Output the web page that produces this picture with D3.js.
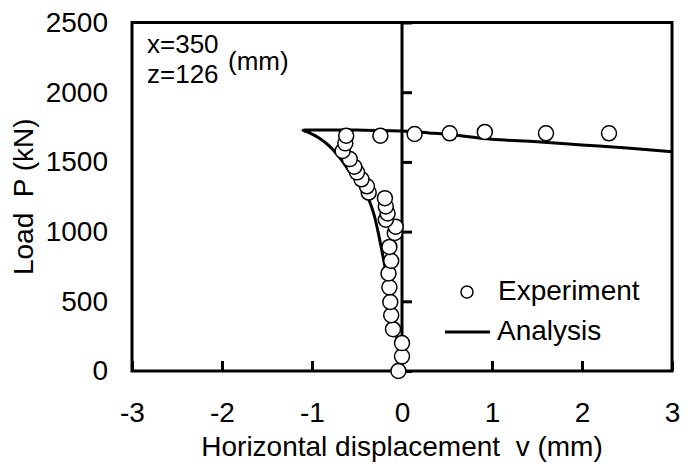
<!DOCTYPE html>
<html>
<head>
<meta charset="utf-8">
<script src="https://cdn.jsdelivr.net/npm/d3@7"></script>
<style>
  body { margin: 0; background: #fff; }
  text { font-family: Arial, "Liberation Sans", sans-serif; fill: #000; white-space: pre; }
</style>
</head>
<body>
<svg id="chart" width="688" height="466"></svg>
<script>
// experiment: horizontal displacement v (mm) and load P (kN)
var expV = [-0.04, 0.00, 0.00, -0.10, -0.12, -0.13, -0.14, -0.15, -0.12, -0.14, -0.08, -0.07,
  -0.18, -0.16, -0.18, -0.19, -0.37, -0.39, -0.45, -0.50, -0.53, -0.58, -0.66, -0.63, -0.62,
  -0.24, 0.14, 0.53, 0.92, 1.60, 2.30];
var expP = [0, 105, 200, 300, 400, 495, 600, 700, 790, 890, 990, 1035,
  1085, 1130, 1180, 1240, 1280, 1325, 1375, 1425, 1465, 1520, 1578, 1633, 1688,
  1688, 1700, 1705, 1715, 1705, 1705];

// analysis curve
var anaV = [0.00, -0.10, -0.19, -0.22, -0.26, -0.31, -0.37, -0.45, -0.55, -0.68, -0.80, -0.93,
  -1.04, -1.10, -1.08, -1.00, -0.50, 0.00, 0.30, 0.50, 1.00, 1.50, 2.00, 2.50, 3.00];
var anaP = [0, 400, 750, 850, 980, 1120, 1230, 1310, 1400, 1520, 1610, 1675,
  1712, 1726, 1729, 1729, 1728, 1722, 1708, 1698, 1662, 1645, 1622, 1600, 1572];

var xTicks = [-3, -2, -1, 0, 1, 2, 3];
var yTicks = [0, 500, 1000, 1500, 2000, 2500];

var margin = {left: 132, right: 16, top: 22.5, bottom: 95};
var width = 688, height = 466;
var fontSize = 28;

var svg = d3.select('#chart');
var x = d3.scaleLinear().domain([-3, 3]).range([margin.left, width - margin.right]);
var y = d3.scaleLinear().domain([0, 2500]).range([height - margin.bottom, margin.top]);

// frame
svg.append('rect')
  .attr('x', x(-3)).attr('y', y(2500))
  .attr('width', x(3) - x(-3)).attr('height', y(0) - y(2500))
  .attr('fill', 'none').attr('stroke', '#000').attr('stroke-width', 3);

// y tick labels along the left border
var yLabels = svg.append('g')
  .attr('transform', 'translate(' + x(-3) + ',0)')
  .call(d3.axisLeft(y).tickValues(yTicks).tickSize(0).tickPadding(24).tickFormat(d => String(d)));
yLabels.select('.domain').remove();
yLabels.selectAll('text').attr('font-size', fontSize).attr('font-family', null);

// y axis at v = 0 with ticks pointing right
var yAxis = svg.append('g')
  .attr('transform', 'translate(' + x(0) + ',0)')
  .call(d3.axisRight(y).tickValues(yTicks).tickSize(10).tickFormat(''));
yAxis.select('.domain').attr('stroke-width', 3).attr('d', 'M0,' + y(0) + 'V' + y(2500));
yAxis.selectAll('.tick line').attr('stroke-width', 3);

// x axis with ticks pointing up
var xAxis = svg.append('g')
  .attr('transform', 'translate(0,' + y(0) + ')')
  .call(d3.axisBottom(x).tickValues(xTicks).tickSize(-10).tickPadding(31).tickFormat(d => String(d)));
xAxis.select('.domain').remove();
xAxis.selectAll('.tick line').attr('stroke-width', 3);
xAxis.selectAll('text').attr('font-size', fontSize).attr('font-family', null);

// analysis line
var anaData = d3.zip(anaV, anaP);
svg.append('path')
  .datum(anaData)
  .attr('fill', 'none').attr('stroke', '#000').attr('stroke-width', 3)
  .attr('stroke-linejoin', 'round')
  .attr('d', d3.line().x(d => x(d[0])).y(d => y(d[1])).curve(d3.curveCatmullRom.alpha(0.5)));

// experiment markers
svg.append('g').selectAll('circle')
  .data(d3.zip(expV, expP))
  .enter().append('circle')
  .attr('cx', d => x(d[0])).attr('cy', d => y(d[1]))
  .attr('r', 7.5)
  .attr('fill', '#fff').attr('stroke', '#000').attr('stroke-width', 1.5);

// annotation
svg.append('text').attr('x', 147).attr('y', 53).attr('font-size', 26).text('x=350');
svg.append('text').attr('x', 147).attr('y', 83).attr('font-size', 26).text('z=126');
svg.append('text').attr('x', 228).attr('y', 70).attr('font-size', 26).text('(mm)');

// legend
svg.append('circle').attr('cx', 467).attr('cy', 292).attr('r', 6)
  .attr('fill', '#fff').attr('stroke', '#000').attr('stroke-width', 1.5);
svg.append('text').attr('x', 498).attr('y', 300).attr('font-size', fontSize).text('Experiment');
svg.append('line').attr('x1', 445).attr('x2', 490).attr('y1', 332).attr('y2', 332)
  .attr('stroke', '#000').attr('stroke-width', 3);
svg.append('text').attr('x', 497).attr('y', 340).attr('font-size', fontSize).text('Analysis');

// axis titles
svg.append('text')
  .attr('x', x(0)).attr('y', 456).attr('text-anchor', 'middle').attr('font-size', fontSize)
  .text('Horizontal displacement  v (mm)');
svg.append('text')
  .attr('transform', 'translate(33,' + ((y(0) + y(2500)) / 2) + ') rotate(-90)')
  .attr('text-anchor', 'middle').attr('font-size', fontSize)
  .text('Load  P (kN)');
</script>
</body>
</html>
